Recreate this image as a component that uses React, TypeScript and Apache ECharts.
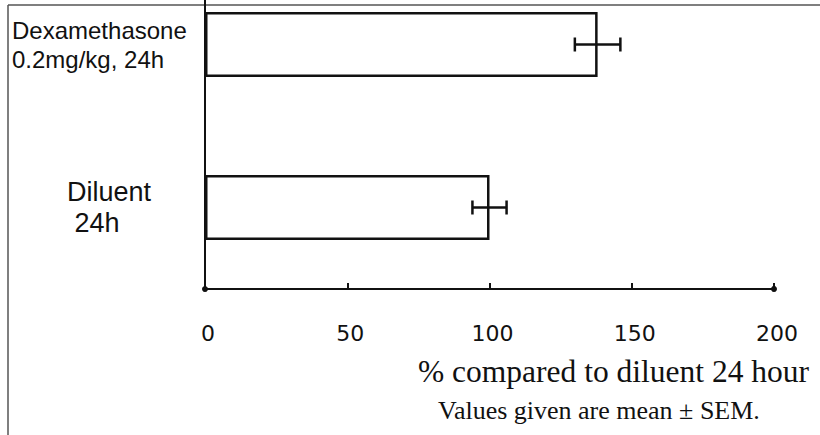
import React, { useEffect, useRef } from "react";
import * as echarts from "echarts";

const categories = ["Dexamethasone\n0.2mg/kg, 24h", "Diluent\n\u00a024h"];
const means = [138, 100];
const sems = [8, 6];
const xMin = 0;
const xMax = 200;
const xInterval = 50;
const xTitle = "% compared to diluent 24 hour";
const note = "Values given are mean \u00b1 SEM.";

export default function App() {
  const ref = useRef<HTMLDivElement>(null);
  useEffect(() => {
    const chart = echarts.init(ref.current!, null, { renderer: "svg" });
    const ink = "#111";
    chart.setOption({
      animation: false,
      backgroundColor: "#fff",
      grid: { left: 205, right: 46, top: -37, height: 326, containLabel: false, outerBoundsMode: "none" },
      title: [
        {
          text: xTitle,
          left: 418,
          top: 355,
          padding: 0,
          textStyle: { fontFamily: "Liberation Serif", fontSize: 31.5, fontWeight: "normal", color: ink },
        },
        {
          text: note,
          left: 438,
          top: 397,
          padding: 0,
          textStyle: { fontFamily: "Liberation Serif", fontSize: 26, fontWeight: "normal", color: ink },
        },
      ],
      xAxis: {
        type: "value",
        min: xMin,
        max: xMax,
        interval: xInterval,
        axisLine: {
          show: true,
          symbol: ["circle", "circle"],
          symbolSize: [6, 6],
          lineStyle: { color: ink, width: 2 },
        },
        axisTick: { show: true, inside: true, length: 6, lineStyle: { color: ink, width: 2 } },
        splitLine: { show: false },
        axisLabel: { margin: 33, fontFamily: "DejaVu Sans", fontSize: 22, color: ink, padding: [0, 0, 0, 6] },
      },
      yAxis: {
        type: "category",
        inverse: true,
        data: [
          {
            value: categories[0],
            textStyle: { align: "left", fontFamily: "Liberation Sans", fontSize: 24, lineHeight: 29 },
          },
          {
            value: categories[1],
            textStyle: {
              align: "left",
              fontFamily: "Liberation Sans",
              fontSize: 27,
              lineHeight: 31,
              padding: [11, 0, 0, 55],
            },
          },
        ],
        axisLine: { show: true, lineStyle: { color: ink, width: 2 } },
        axisTick: { show: false },
        axisLabel: { align: "left", margin: 193, color: ink },
      },
      series: [
        {
          type: "bar",
          data: means,
          barWidth: 65,
          itemStyle: { color: "#fff", borderColor: ink, borderWidth: 2.5 },
          z: 2,
        },
        {
          type: "custom",
          data: means.map((m, i) => [m, i, sems[i]]),
          encode: { x: 0, y: 1 },
          z: 3,
          renderItem: (params: any, api: any) => {
            const m = api.value(0);
            const c = api.value(1);
            const s = api.value(2);
            const lo = api.coord([m - s, c]);
            const hi = api.coord([m + s, c]);
            const h = 7;
            const style = { stroke: ink, lineWidth: 2.5 };
            return {
              type: "group",
              children: [
                { type: "line", shape: { x1: lo[0], y1: lo[1], x2: hi[0], y2: hi[1] }, style },
                { type: "line", shape: { x1: lo[0], y1: lo[1] - h, x2: lo[0], y2: lo[1] + h }, style },
                { type: "line", shape: { x1: hi[0], y1: hi[1] - h, x2: hi[0], y2: hi[1] + h }, style },
              ],
            };
          },
        },
      ],
      graphic: [
        { type: "line", shape: { x1: 8, y1: 5, x2: 820, y2: 5 }, style: { stroke: "#555", lineWidth: 1.5 } },
        { type: "line", shape: { x1: 8, y1: 5, x2: 8, y2: 435 }, style: { stroke: "#555", lineWidth: 1.5 } },
      ],
    });
    return () => chart.dispose();
  }, []);
  return (
    <div
      ref={ref}
      style={{ position: "absolute", left: 0, top: 0, width: 820, height: 435, background: "#fff" }}
    />
  );
}
